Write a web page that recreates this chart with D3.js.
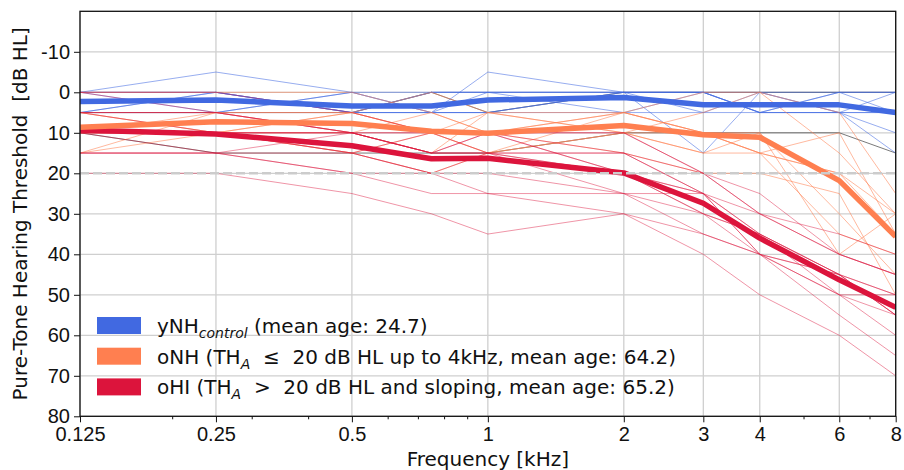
<!DOCTYPE html>
<html>
<head>
<meta charset="utf-8">
<script src="https://cdn.jsdelivr.net/npm/d3@7"></script>
<style>
  body { margin: 0; background: #fff; }
  svg { font-family: "DejaVu Sans", sans-serif; }
  .axis text { font-size: 20px; fill: #111; }
  .axis path, .axis line { stroke: #111; }
</style>
</head>
<body>
<div id="chart"></div>
<script>
// ---- data ----
const freqs = [0.125, 0.25, 0.5, 0.75, 1, 2, 3, 4, 6, 8];
const xTicks = [0.125, 0.25, 0.5, 1, 2, 3, 4, 6, 8];
const xTickLabels = ["0.125", "0.25", "0.5", "1", "2", "3", "4", "6", "8"];
const xMinorTicks = [0.2, 0.3, 0.4, 0.6, 0.7, 0.8, 0.9, 5, 7];
const yTicks = [-10, 0, 10, 20, 30, 40, 50, 60, 70, 80];

// individual thresholds [dB HL] per subject
const subjYNH = [
  [0, -5, 0, 5, -5, 0, 0, 0, 5, 10],
  [5, 5, 0, 0, 0, 5, 5, 5, 5, 5],
  [0, 0, 5, 5, 0, 0, 5, 0, 0, 0],
  [5, 0, 5, 5, 5, 0, 0, 5, 5, 5],
  [0, 5, 5, 0, 0, 0, 15, 0, 5, 15],
  [5, 0, 5, 5, 5, 5, 0, 5, 0, 5],
  [0, 0, 5, 0, 0, 0, 0, 5, 5, 0],
  [5, 5, 0, 5, 5, 0, 0, 5, 0, 0]
];
const subjONH = [
  [0, 0, 0, 5, 10, 5, 0, 0, 5, 25],
  [15, 5, 5, 10, 15, 10, 15, 10, 30, 45],
  [15, 10, 15, 20, 15, 5, 10, 15, 35, 40],
  [5, 10, 5, 0, 5, 10, 5, 0, 15, 30],
  [10, 5, 5, 10, 10, 15, 20, 20, 25, 50],
  [10, 10, 10, 15, 5, 10, 10, 15, 20, 35],
  [5, 5, 10, 5, 10, 5, 10, 10, 40, 30],
  [10, 10, 5, 10, 15, 10, 15, 15, 10, 35],
  [5, 10, 15, 10, 5, 5, 10, 15, 20, 30]
];
const subjOHI = [
  [0, 0, 5, 10, 10, 10, 20, 30, 40, 45],
  [5, 10, 10, 15, 15, 15, 25, 35, 45, 55],
  [10, 15, 20, 25, 25, 25, 30, 40, 50, 60],
  [15, 15, 20, 20, 25, 30, 40, 50, 60, 70],
  [20, 20, 25, 30, 35, 30, 35, 40, 45, 50],
  [5, 5, 10, 10, 10, 15, 20, 25, 40, 45],
  [10, 10, 10, 15, 15, 20, 25, 40, 50, 55],
  [15, 15, 15, 20, 20, 25, 35, 40, 55, 65],
  [5, 5, 10, 15, 10, 20, 30, 35, 50, 50],
  [10, 10, 15, 20, 15, 15, 25, 40, 45, 55],
  [0, 5, 10, 10, 10, 10, 20, 30, 35, 40],
  [10, 10, 10, 15, 15, 20, 30, 35, 45, 50],
  [15, 15, 10, 15, 10, 20, 25, 30, 40, 45],
  [10, 10, 15, 10, 15, 25, 25, 35, 45, 55]
];
const subjOther = [
  [10, 15, 15, 15, 15, 10, 10, 10, 10, 15],
  [5, 5, 5, 0, 5, 0, 0, 0, 0, 0]
];

// group means
const meanYNH = [2.3, 1.9, 3.4, 3.4, 1.9, 1.3, 3.1, 3.1, 3.1, 5.0];
const meanONH = [8.6, 7.3, 7.7, 9.6, 10.1, 8.2, 10.5, 11.1, 21.8, 35.6];
const meanOHI = [9.3, 10.3, 13.2, 16.4, 16.3, 19.9, 27.4, 36.0, 46.3, 53.1];

const groupColours = ["#4169e1", "#ff7f50", "#dc143c"];

// ---- layout ----
const fullW = 904, fullH = 470;
const margin = { top: 11.3, right: 8.3, bottom: 53.7, left: 80 };
const W = fullW - margin.left - margin.right;
const H = fullH - margin.top - margin.bottom;

const svg = d3.select("#chart").append("svg")
  .attr("width", fullW).attr("height", fullH);

const g = svg.append("g").attr("transform", `translate(${margin.left},${margin.top})`);

const x = d3.scaleLog().base(2).domain([0.125, 8]).range([0, W]);
const y = d3.scaleLinear().domain([-20, 80]).range([0, H]);

svg.append("defs").append("clipPath").attr("id", "clip")
  .append("rect").attr("width", W).attr("height", H);

// grid
g.append("g").selectAll("line").data(xTicks).join("line")
  .attr("x1", d => x(d)).attr("x2", d => x(d))
  .attr("y1", 0).attr("y2", H)
  .attr("stroke", "#cfcfcf").attr("stroke-width", 1.3);
g.append("g").selectAll("line").data(yTicks).join("line")
  .attr("x1", 0).attr("x2", W)
  .attr("y1", d => y(d)).attr("y2", d => y(d))
  .attr("stroke", "#cfcfcf").attr("stroke-width", 1.3);

const line = d3.line()
  .x((d, i) => x(freqs[i]))
  .y(d => y(d));

const plot = g.append("g").attr("clip-path", "url(#clip)");

// individual subjects
function thin(data, colour, op) {
  plot.append("g").selectAll("path").data(data).join("path")
    .attr("d", line)
    .attr("fill", "none")
    .attr("stroke", colour)
    .attr("stroke-opacity", op)
    .attr("stroke-width", 1);
}
thin(subjOther, "#333333", 0.65);
thin(subjYNH, groupColours[0], 0.55);
thin(subjONH, groupColours[1], 0.55);
thin(subjOHI, groupColours[2], 0.45);

// means
[meanOHI, meanONH, meanYNH].forEach((m, i) => {
  plot.append("path")
    .datum(m)
    .attr("d", line)
    .attr("fill", "none")
    .attr("stroke", groupColours[2 - i])
    .attr("stroke-width", 5.5)
    .attr("stroke-linejoin", "round");
});

// 20 dB HL criterion
plot.append("line")
  .attr("x1", 0).attr("x2", W)
  .attr("y1", y(20)).attr("y2", y(20))
  .attr("stroke", "#cccccc")
  .attr("stroke-width", 2.5)
  .attr("stroke-dasharray", "9,4");

// axes
g.append("g").attr("class", "axis")
  .call(d3.axisLeft(y).tickValues(yTicks).tickSize(6).tickPadding(4)
    .tickFormat(d => d < 0 ? "-" + Math.abs(d) : d))
  .call(a => a.select(".domain").remove());

g.append("g").attr("class", "axis")
  .attr("transform", `translate(0,${H})`)
  .call(d3.axisBottom(x).tickValues(xTicks).tickSize(6).tickPadding(5)
    .tickFormat((d, i) => xTickLabels[i]))
  .call(a => a.select(".domain").remove());

g.append("g").attr("class", "axis")
  .attr("transform", `translate(0,${H})`)
  .call(d3.axisBottom(x).tickValues(xMinorTicks).tickSize(3).tickFormat(""))
  .call(a => a.select(".domain").remove());

// frame
g.append("rect").attr("width", W).attr("height", H)
  .attr("fill", "none").attr("stroke", "#111").attr("stroke-width", 1.3);

// axis labels
g.append("text")
  .attr("x", W / 2).attr("y", H + 50)
  .attr("text-anchor", "middle")
  .attr("font-size", 20).attr("fill", "#111")
  .text("Frequency [kHz]");

svg.append("text")
  .attr("transform", `translate(27,${margin.top + H / 2}) rotate(-90)`)
  .attr("text-anchor", "middle")
  .attr("font-size", 20).attr("fill", "#111")
  .style("white-space", "pre")
  .text("Pure-Tone Hearing Threshold  [dB HL]");

// legend
const legendRows = [
  [["yNH", ""], ["control", "sub"], [" (mean age: 24.7)", ""]],
  [["oNH (TH", ""], ["A", "sub"], ["  \u2264  20 dB HL up to 4kHz, mean age: 64.2)", ""]],
  [["oHI (TH", ""], ["A", "sub"], ["  >  20 dB HL and sloping, mean age: 65.2)", ""]]
];
const leg = svg.append("g").attr("transform", "translate(97,317)");
legendRows.forEach((row, i) => {
  const ly = i * 30.7;
  leg.append("rect")
    .attr("x", 0).attr("y", ly)
    .attr("width", 44).attr("height", 17)
    .attr("fill", groupColours[i]);
  const t = leg.append("text")
    .attr("x", 60).attr("y", ly + 16)
    .attr("font-size", 20).attr("fill", "#111")
    .style("white-space", "pre");
  row.forEach(([s, kind]) => {
    const ts = t.append("tspan").text(s);
    if (kind === "sub") {
      ts.attr("font-size", 14).attr("font-style", "italic").attr("dy", 5);
    } else if (t.selectAll("tspan").size() > 1) {
      ts.attr("dy", -5);
    }
  });
});
</script>
</body>
</html>
